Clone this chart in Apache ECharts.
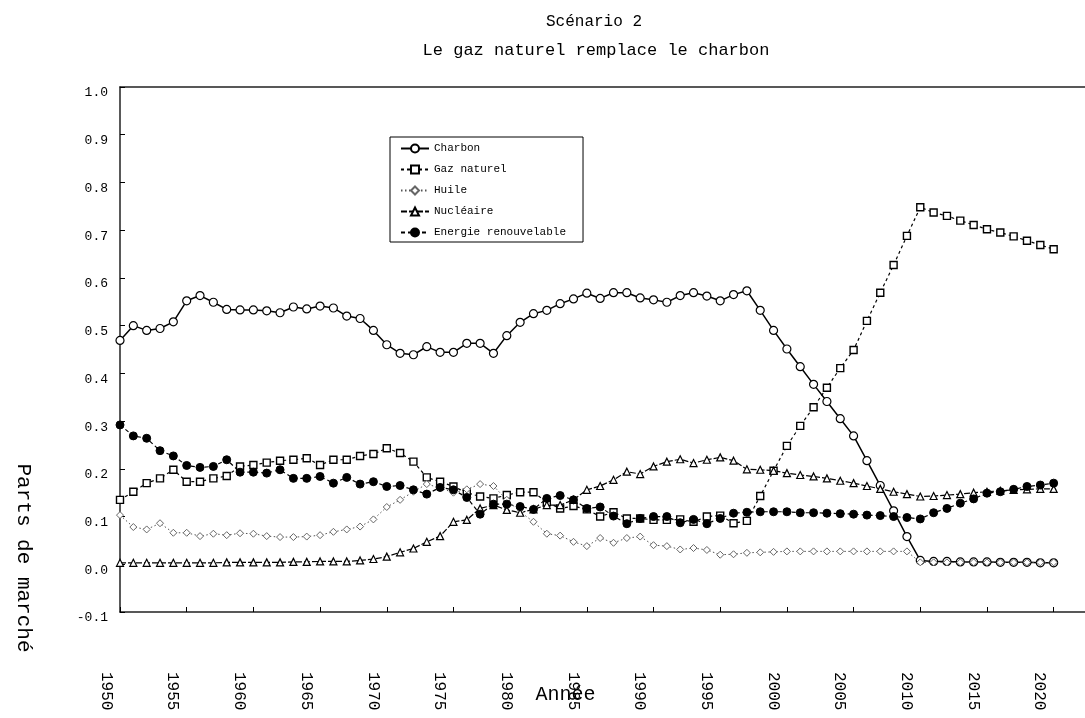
<!DOCTYPE html>
<html>
<head>
<meta charset="utf-8">
<title>Scénario 2 — Le gaz naturel remplace le charbon</title>
<script src="https://cdn.jsdelivr.net/npm/echarts/dist/echarts.min.js"></script>
<style>
  html, body { margin: 0; padding: 0; background: #fff; }
  #chart { width: 1085px; height: 718px; }
</style>
</head>
<body>
<div id="chart"></div>
<script>
// Years on the horizontal axis
const years = [
  1950, 1951, 1952, 1953, 1954, 1955, 1956, 1957, 1958, 1959,
  1960, 1961, 1962, 1963, 1964, 1965, 1966, 1967, 1968, 1969,
  1970, 1971, 1972, 1973, 1974, 1975, 1976, 1977, 1978, 1979,
  1980, 1981, 1982, 1983, 1984, 1985, 1986, 1987, 1988, 1989,
  1990, 1991, 1992, 1993, 1994, 1995, 1996, 1997, 1998, 1999,
  2000, 2001, 2002, 2003, 2004, 2005, 2006, 2007, 2008, 2009,
  2010, 2011, 2012, 2013, 2014, 2015, 2016, 2017, 2018, 2019,
  2020
];

// Market shares per energy source
const charbon = [
  0.469, 0.500, 0.490, 0.494, 0.508, 0.552, 0.563, 0.549, 0.534, 0.533,
  0.533, 0.531, 0.527, 0.539, 0.535, 0.541, 0.537, 0.520, 0.515, 0.490,
  0.460, 0.442, 0.439, 0.456, 0.444, 0.444, 0.463, 0.463, 0.442, 0.479,
  0.507, 0.525, 0.532, 0.546, 0.556, 0.568, 0.557, 0.569, 0.569, 0.558,
  0.554, 0.549, 0.563, 0.569, 0.562, 0.552, 0.565, 0.573, 0.532, 0.490,
  0.451, 0.414, 0.377, 0.341, 0.305, 0.269, 0.217, 0.165, 0.112, 0.058,
  0.008, 0.006, 0.006, 0.005, 0.005, 0.005, 0.004, 0.004, 0.004, 0.003,
  0.003
];

const gazNaturel = [
  0.135, 0.152, 0.170, 0.180, 0.198, 0.173, 0.173, 0.180, 0.185, 0.205,
  0.208, 0.213, 0.217, 0.219, 0.222, 0.208, 0.219, 0.219, 0.227, 0.231,
  0.243, 0.233, 0.215, 0.182, 0.173, 0.163, 0.150, 0.142, 0.138, 0.145,
  0.151, 0.151, 0.130, 0.117, 0.122, 0.115, 0.100, 0.109, 0.096, 0.096,
  0.093, 0.093, 0.094, 0.089, 0.100, 0.102, 0.086, 0.091, 0.143, 0.196,
  0.248, 0.290, 0.329, 0.370, 0.411, 0.449, 0.510, 0.569, 0.627, 0.688,
  0.748, 0.737, 0.730, 0.720, 0.711, 0.702, 0.695, 0.687, 0.678, 0.669,
  0.660
];

const huile = [
  0.103, 0.078, 0.073, 0.086, 0.066, 0.066, 0.059, 0.064, 0.061, 0.065,
  0.064, 0.059, 0.057, 0.057, 0.058, 0.061, 0.068, 0.073, 0.079, 0.094,
  0.120, 0.135, 0.152, 0.168, 0.160, 0.150, 0.157, 0.168, 0.164, 0.135,
  0.110, 0.089, 0.064, 0.060, 0.047, 0.038, 0.055, 0.045, 0.055, 0.058,
  0.040, 0.038, 0.031, 0.034, 0.030, 0.020, 0.021, 0.024, 0.025, 0.026,
  0.027, 0.027, 0.027, 0.027, 0.027, 0.027, 0.027, 0.027, 0.027, 0.027,
  0.004, 0.004, 0.004, 0.004, 0.004, 0.004, 0.004, 0.004, 0.004, 0.004,
  0.004
];

const nucleaire = [
  0.003, 0.003, 0.003, 0.003, 0.003, 0.003, 0.003, 0.003, 0.004, 0.004,
  0.004, 0.004, 0.004, 0.005, 0.005, 0.006, 0.006, 0.006, 0.008, 0.011,
  0.016, 0.025, 0.033, 0.047, 0.059, 0.089, 0.093, 0.117, 0.124, 0.114,
  0.108, 0.115, 0.124, 0.124, 0.135, 0.156, 0.164, 0.177, 0.194, 0.189,
  0.205, 0.215, 0.220, 0.212, 0.219, 0.224, 0.217, 0.199, 0.198, 0.196,
  0.191, 0.187, 0.184, 0.180, 0.175, 0.170, 0.164, 0.158, 0.152, 0.147,
  0.142, 0.143, 0.145, 0.147, 0.150, 0.152, 0.154, 0.156, 0.157, 0.158,
  0.158
];

const renouvelable = [
  0.292, 0.269, 0.264, 0.238, 0.227, 0.207, 0.203, 0.205, 0.219, 0.193,
  0.193, 0.191, 0.198, 0.180, 0.180, 0.184, 0.170, 0.182, 0.168, 0.173,
  0.163, 0.165, 0.156, 0.147, 0.161, 0.156, 0.140, 0.105, 0.126, 0.126,
  0.121, 0.115, 0.138, 0.144, 0.135, 0.117, 0.120, 0.101, 0.085, 0.096,
  0.100, 0.100, 0.087, 0.094, 0.085, 0.096, 0.107, 0.109, 0.110, 0.110,
  0.110, 0.108, 0.108, 0.107, 0.106, 0.105, 0.103, 0.102, 0.100, 0.098,
  0.095, 0.108, 0.117, 0.128, 0.137, 0.149, 0.152, 0.157, 0.163, 0.166,
  0.170
];

const seriesNames = ['Charbon', 'Gaz naturel', 'Huile', 'Nucléaire', 'Energie renouvelable'];
const titleText = 'Scénario 2';
const subtitleText = 'Le gaz naturel remplace le charbon';
const xName = 'Année';
const yName = 'Parts de marché';

const MONO = "'Liberation Mono', 'DejaVu Sans Mono', monospace";

function pairs(values) {
  return years.map((y, i) => [y, values[i]]);
}

const plotLeft = 120, plotTop = 87, plotWidth = 967, plotHeight = 525;
const xMin = 1950, xMax = 2022.5;
const frameLine = { show: true, onZero: false, lineStyle: { color: '#222', width: 1.5 } };

const chart = echarts.init(document.getElementById('chart'), null, { renderer: 'canvas' });

function lineSeries(name, values, symbol, size, item, line) {
  return {
    name: name,
    type: 'line',
    xAxisIndex: 0,
    yAxisIndex: 0,
    data: pairs(values),
    symbol: symbol,
    symbolSize: size,
    showAllSymbol: true,
    itemStyle: item,
    lineStyle: line,
    emphasis: { disabled: true }
  };
}

chart.setOption({
  animation: false,
  backgroundColor: '#fff',
  title: [
    {
      text: titleText, left: 589, top: 9, textAlign: 'center',
      textStyle: { fontFamily: MONO, fontSize: 16, fontWeight: 'normal', color: '#000' }
    },
    {
      text: subtitleText, left: 591, top: 37, textAlign: 'center',
      textStyle: { fontFamily: MONO, fontSize: 17, fontWeight: 'normal', color: '#000' }
    }
  ],
  legend: {
    data: seriesNames,
    orient: 'vertical',
    left: 390,
    top: 137,
    backgroundColor: '#fff',
    borderColor: '#000',
    borderWidth: 1,
    padding: [6, 17, 4, 10],
    itemWidth: 28,
    itemHeight: 10,
    itemGap: 10,
    textStyle: { fontFamily: MONO, fontSize: 11, color: '#000' },
    selectedMode: false
  },
  grid: [
    {
      left: plotLeft, top: plotTop, width: plotWidth, height: plotHeight,
      show: false, containLabel: false, outerBoundsMode: 'none'
    },
    {
      left: plotLeft - 14, top: plotTop, width: plotWidth, height: plotHeight,
      show: false, containLabel: false, outerBoundsMode: 'none'
    }
  ],
  xAxis: [
    {
      type: 'value', gridIndex: 0, min: xMin, max: xMax, interval: 5,
      position: 'bottom',
      axisLine: frameLine,
      axisTick: { show: true, inside: true, length: 5, lineStyle: { color: '#000' } },
      axisLabel: { show: false },
      splitLine: { show: false }
    },
    {
      type: 'value', gridIndex: 1, min: xMin, max: xMax, interval: 5,
      position: 'bottom',
      axisLine: { show: false, onZero: false },
      axisTick: { show: false },
      splitLine: { show: false },
      axisLabel: {
        rotate: -90, margin: 60, align: 'left', verticalAlign: 'middle',
        fontFamily: MONO, fontSize: 16, color: '#000',
        showMaxLabel: false, hideOverlap: false,
        formatter: v => (Math.abs(v % 5) < 1e-6 ? String(Math.round(v)) : '')
      },
      name: xName,
      nameLocation: 'middle',
      nameGap: 73,
      nameMoveOverlap: false,
      nameTextStyle: { fontFamily: MONO, fontSize: 20, color: '#000', padding: [0, 48, 0, 0] }
    },
    {
      // upper frame edge of the plot area
      type: 'value', gridIndex: 0, min: xMin, max: xMax,
      position: 'top',
      axisLine: frameLine,
      axisTick: { show: false },
      axisLabel: { show: false },
      splitLine: { show: false }
    }
  ],
  yAxis: [
    {
      type: 'value', gridIndex: 0, min: -0.1, max: 1.0, interval: 0.1,
      axisLine: frameLine,
      axisTick: { show: true, inside: true, length: 5, lineStyle: { color: '#000' } },
      splitLine: { show: false },
      axisLabel: {
        margin: 12, fontFamily: MONO, fontSize: 13, color: '#000',
        verticalAlign: 'top', lineHeight: 12,
        formatter: v => (Math.abs(v) < 1e-9 ? '0.0' : v.toFixed(1))
      }
    },
    {
      type: 'value', gridIndex: 1, min: -0.1, max: 1.0, show: false
    }
  ],
  graphic: [
    {
      type: 'text',
      x: 24, y: 558,
      rotation: -Math.PI / 2,
      style: {
        text: yName, font: '21px ' + MONO, fill: '#000',
        align: 'center', verticalAlign: 'middle'
      }
    }
  ],
  series: [
    lineSeries(seriesNames[0], charbon, 'circle', 8,
      { color: '#fff', borderColor: '#000', borderWidth: 1.2 },
      { color: '#000', width: 1.5, type: 'solid' }),
    lineSeries(seriesNames[1], gazNaturel, 'rect', 7,
      { color: '#fff', borderColor: '#000', borderWidth: 1.4 },
      { color: '#000', width: 1.2, type: [3, 3] }),
    lineSeries(seriesNames[2], huile, 'diamond', 7,
      { color: '#fff', borderColor: '#666', borderWidth: 1 },
      { color: '#555', width: 1, type: [1.5, 2.5] }),
    lineSeries(seriesNames[3], nucleaire, 'triangle', 7,
      { color: '#fff', borderColor: '#000', borderWidth: 1.2 },
      { color: '#000', width: 1.2, type: [6, 2] }),
    lineSeries(seriesNames[4], renouvelable, 'circle', 8,
      { color: '#000', borderColor: '#000', borderWidth: 1 },
      { color: '#000', width: 1.2, type: [4, 3] })
  ]
});
</script>
</body>
</html>
